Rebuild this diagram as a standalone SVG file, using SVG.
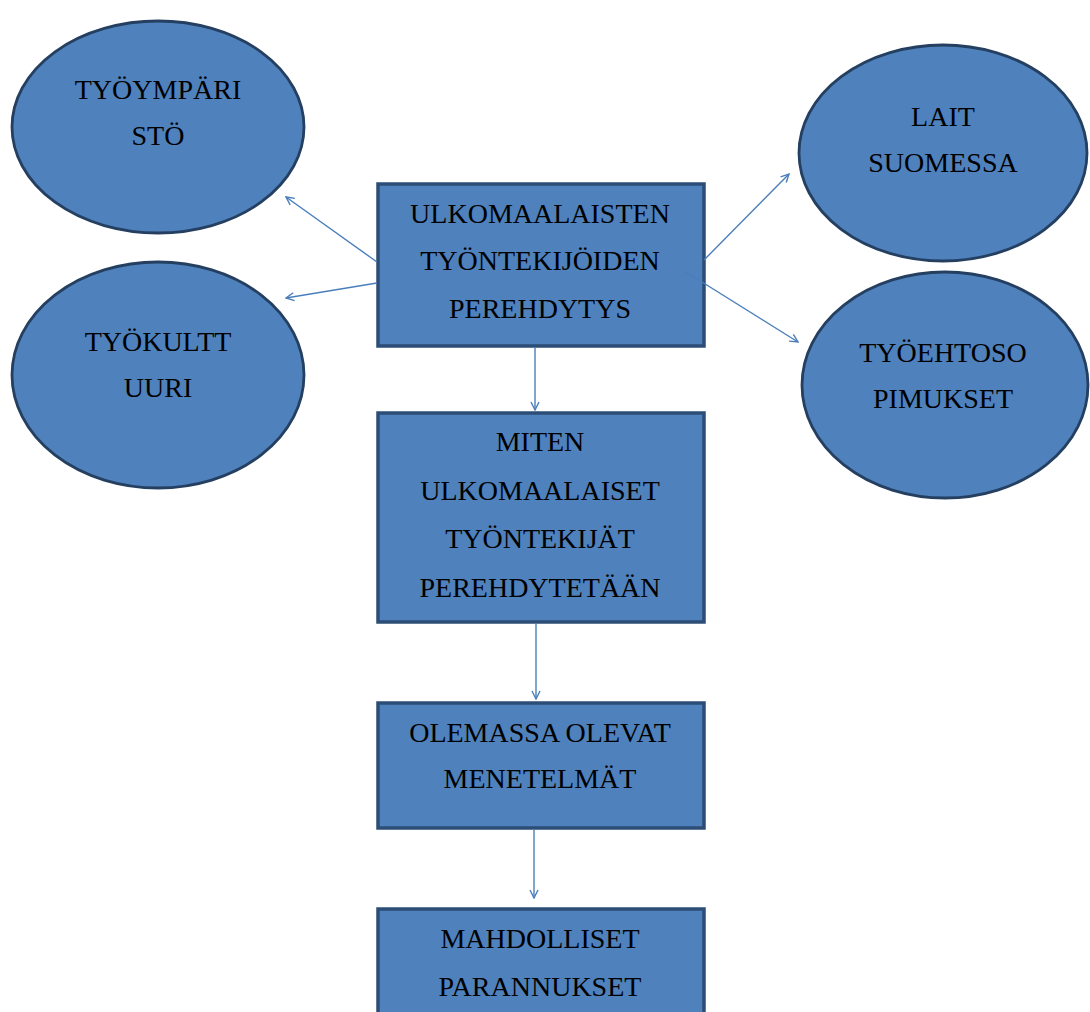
<svg xmlns="http://www.w3.org/2000/svg" width="1090" height="1012" viewBox="0 0 1090 1012">
<defs>
<style>
.shape{fill:#4f81bd;stroke:#2c4d75;stroke-width:3.5}
.ell{fill:#4f81bd;stroke:#243f60;stroke-width:2.8}
.lbl{font-family:"Liberation Serif","Times New Roman",serif;font-size:28px;fill:#000;text-anchor:middle}
.con{stroke:#4a7ebb;stroke-width:1.4;fill:none;marker-end:url(#arr)}
</style>
<marker id="arr" viewBox="0 0 10 10" refX="9" refY="5" markerWidth="10" markerHeight="10" markerUnits="userSpaceOnUse" orient="auto">
<path d="M1,1 L9,5 L1,9" fill="none" stroke="#4a7ebb" stroke-width="1.4"/>
</marker>
</defs>
<rect width="1090" height="1012" fill="#fff"/>
<g id="n-tyoymparisto">
<ellipse class="ell" cx="158" cy="127" rx="146" ry="106"/>
<text class="lbl" x="158" y="99">TYÖYMPÄRI</text>
<text class="lbl" x="158" y="145">STÖ</text>
</g>
<g id="n-tyokulttuuri">
<ellipse class="ell" cx="158" cy="375" rx="146" ry="113"/>
<text class="lbl" x="158" y="351">TYÖKULTT</text>
<text class="lbl" x="158" y="397">UURI</text>
</g>
<g id="n-lait">
<ellipse class="ell" cx="943" cy="153" rx="144" ry="108"/>
<text class="lbl" x="943" y="126">LAIT</text>
<text class="lbl" x="943" y="172">SUOMESSA</text>
</g>
<g id="n-tyoehtosopimukset">
<ellipse class="ell" cx="945" cy="385" rx="143" ry="113"/>
<text class="lbl" x="943" y="362">TYÖEHTOSO</text>
<text class="lbl" x="943" y="408">PIMUKSET</text>
</g>
<g id="n-perehdytys">
<rect class="shape" x="378" y="184" width="326" height="162"/>
<text class="lbl" x="540" y="223">ULKOMAALAISTEN</text>
<text class="lbl" x="540" y="270">TYÖNTEKIJÖIDEN</text>
<text class="lbl" x="540" y="318">PEREHDYTYS</text>
</g>
<g id="n-miten">
<rect class="shape" x="378" y="413" width="326" height="209"/>
<text class="lbl" x="540" y="451">MITEN</text>
<text class="lbl" x="540" y="500">ULKOMAALAISET</text>
<text class="lbl" x="540" y="548">TYÖNTEKIJÄT</text>
<text class="lbl" x="540" y="597">PEREHDYTETÄÄN</text>
</g>
<g id="n-menetelmat">
<rect class="shape" x="378" y="703" width="326" height="125"/>
<text class="lbl" x="540" y="742">OLEMASSA OLEVAT</text>
<text class="lbl" x="540" y="788">MENETELMÄT</text>
</g>
<g id="n-parannukset">
<rect class="shape" x="378" y="909" width="326" height="120"/>
<text class="lbl" x="540" y="948">MAHDOLLISET</text>
<text class="lbl" x="540" y="996">PARANNUKSET</text>
</g>
<g id="connectors">
<line class="con" x1="377" y1="262" x2="286" y2="197"/>
<line class="con" x1="377" y1="283" x2="286" y2="298"/>
<line class="con" x1="704" y1="260" x2="789" y2="174"/>
<line class="con" x1="686" y1="272" x2="798" y2="342"/>
<line class="con" x1="535" y1="347" x2="535" y2="410"/>
<line class="con" x1="536" y1="623" x2="536" y2="699"/>
<line class="con" x1="534" y1="829" x2="534" y2="898"/>
</g>
</svg>
